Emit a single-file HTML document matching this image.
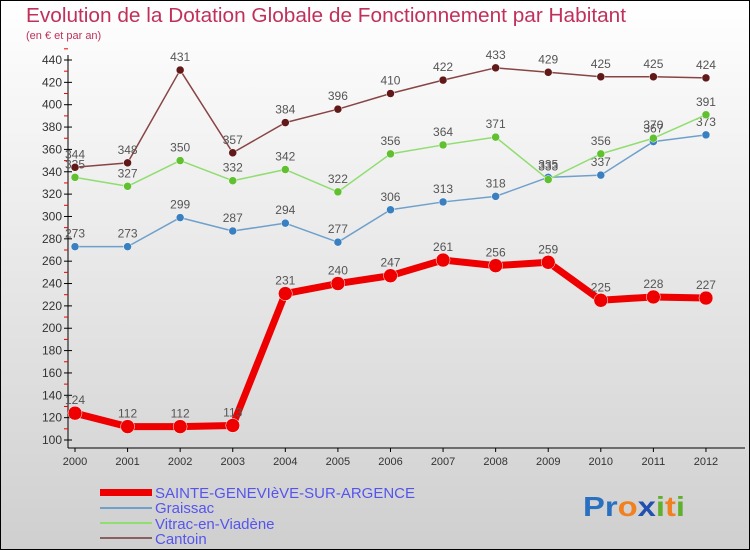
<!DOCTYPE html>
<html><head><meta charset="utf-8"><style>
body{margin:0;}
svg{display:block;font-family:"Liberation Sans",sans-serif;}
</style></head><body>
<svg id="c" width="750" height="550" viewBox="0 0 750 550">
<defs><linearGradient id="bg" x1="0" y1="0" x2="0" y2="1"><stop offset="0" stop-color="#ffffff"/><stop offset="1" stop-color="#cfcfcf"/></linearGradient></defs>
<rect x="0.5" y="0.5" width="749" height="549" fill="url(#bg)" stroke="#000"/>
<text x="26" y="22" font-size="20" fill="#c0305a" textLength="600" lengthAdjust="spacingAndGlyphs">Evolution de la Dotation Globale de Fonctionnement par Habitant</text>
<text x="26" y="39" font-size="11" fill="#c0305a">(en € et par an)</text>
<g id="axes"></g><g id="series"></g>
<g>
<rect x="100" y="489" width="52" height="7" fill="#ee0000"/>
<text x="155" y="498" font-size="15" fill="#5555ee" textLength="260" lengthAdjust="spacingAndGlyphs">SAINTE-GENEVIèVE-SUR-ARGENCE</text>
<line x1="100" y1="508" x2="152" y2="508" stroke="#6fa0cc" stroke-width="2"/>
<text x="155" y="513" font-size="15" fill="#5555ee">Graissac</text>
<line x1="100" y1="523" x2="152" y2="523" stroke="#90dd70" stroke-width="2"/>
<text x="155" y="529" font-size="15" fill="#5555ee">Vitrac-en-Viadène</text>
<line x1="100" y1="538" x2="152" y2="538" stroke="#886060" stroke-width="2"/>
<text x="155" y="544" font-size="15" fill="#5555ee">Cantoin</text>
</g>
<text x="583" y="516" font-size="28" font-weight="bold" textLength="102" lengthAdjust="spacingAndGlyphs"><tspan fill="#2a70c0">Pr</tspan><tspan fill="#f08020">o</tspan><tspan fill="#2050b0">x</tspan><tspan fill="#60b030">i</tspan><tspan fill="#f08020">t</tspan><tspan fill="#60b030">i</tspan></text>
</svg>
<script>
const years=["2000","2001","2002","2003","2004","2005","2006","2007","2008","2009","2010","2011","2012"];
const yTicks=[100,120,140,160,180,200,220,240,260,280,300,320,340,360,380,400,420,440];
const sainte=[124,112,112,113,231,240,247,261,256,259,225,228,227];
const graissac=[273,273,299,287,294,277,306,313,318,335,337,367,373];
const vitrac=[335,327,350,332,342,322,356,364,371,333,356,370,391];
const cantoin=[344,348,431,357,384,396,410,422,433,429,425,425,424];
const NS="http://www.w3.org/2000/svg";
const X=i=>75+i*52.58, Y=v=>440-(v-100)*380/340;
function mk(t,a,p){const e=document.createElementNS(NS,t);for(const k in a)e.setAttribute(k,a[k]);p.appendChild(e);return e;}
const ax=document.getElementById('axes'), sg=document.getElementById('series');
const yl=mk('line',{x1:68,y1:55,x2:68,y2:448,stroke:'#000'},ax);


const xl=mk('line',{x1:68,y1:448,x2:745,y2:448,stroke:'#000'},ax);


yTicks.forEach(v=>{
 mk('line',{x1:64,y1:Y(v),x2:72,y2:Y(v),stroke:'#000'},ax);
 mk('line',{x1:64,y1:Y(v+10),x2:68,y2:Y(v+10),stroke:'#e00'},ax);
 const t=mk('text',{x:62,y:Y(v)+4,'font-size':12,fill:'#333','text-anchor':'end'},ax);t.textContent=v;
 
 
});
years.forEach((y,i)=>{
 mk('line',{x1:X(i),y1:448,x2:X(i),y2:452,stroke:'#000'},ax);
 const t=mk('text',{x:X(i),y:465,'font-size':11,fill:'#333','text-anchor':'middle'},ax);t.textContent=y;
 
 
});
function series(d,col,mcol,w,r,name,fs){
 const g=mk('g',{},sg);
 
 
 mk('polyline',{points:d.map((v,i)=>X(i)+','+Y(v)).join(' '),fill:'none',stroke:col,'stroke-width':w,'stroke-linejoin':'round'},g);
 d.forEach((v,i)=>{
  const c=mk('circle',{cx:X(i),cy:Y(v),r:r,fill:mcol,stroke:'#fff','stroke-width':0.5},g);
  
  
  const t=mk('text',{x:X(i),y:Y(v)-9,'font-size':fs,fill:'#555','text-anchor':'middle'},g);t.textContent=v;
 });
}
series(graissac,'#6fa0cc','#3a80c0',1.5,4,'graissac',12);
series(vitrac,'#90dd70','#60c030',1.5,4,'vitrac',12);
series(cantoin,'#884444','#601818',1.5,4,'cantoin',12);
series(sainte,'#ee0000','#ee0000',7,7,'sainte',12);
</script>
</body></html>
